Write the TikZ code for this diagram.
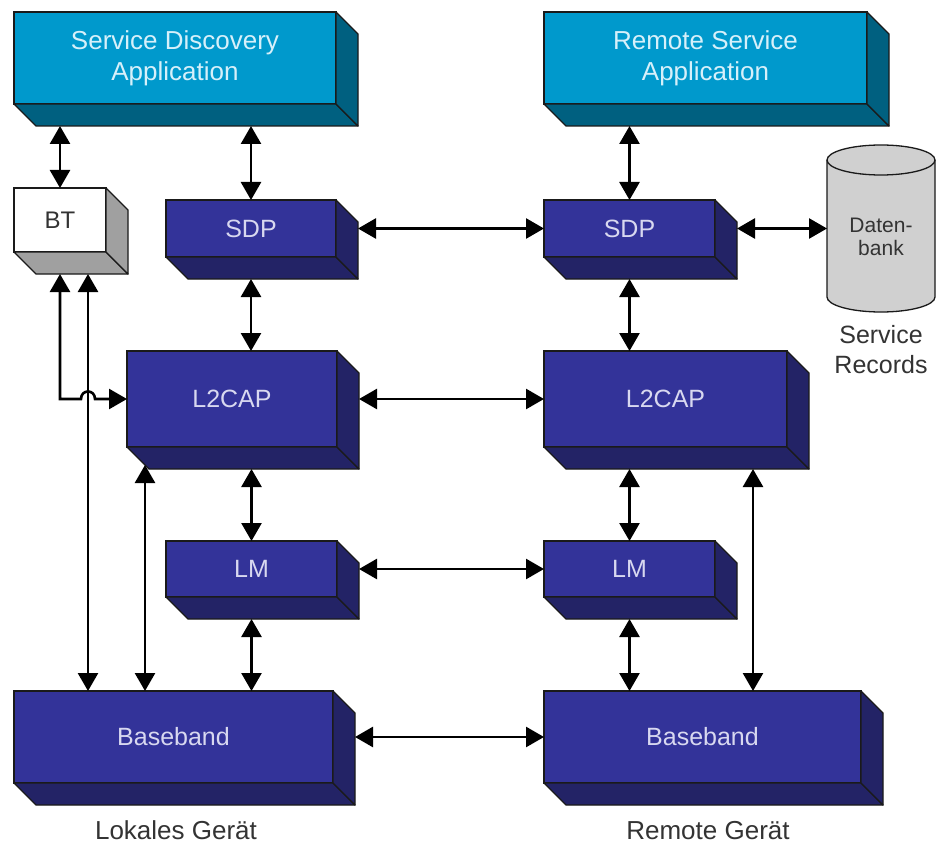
\documentclass[tikz,border=0pt]{standalone}
\usepackage{fontspec}
\setmainfont{Liberation Sans}
\usetikzlibrary{arrows.meta,calc}

\definecolor{appface}{HTML}{0099CC}
\definecolor{appside}{HTML}{006080}
\definecolor{apptext}{HTML}{D6F0FA}
\definecolor{layface}{HTML}{333399}
\definecolor{layside}{HTML}{232366}
\definecolor{laytext}{HTML}{D8D8F0}
\definecolor{btside}{HTML}{A0A0A0}
\definecolor{dbfill}{HTML}{D0D0D0}
\definecolor{labeltext}{HTML}{333333}
\definecolor{edge}{HTML}{1A1A1A}

\tikzset{
  face/.style={draw=edge, line width=1.3pt, inner sep=0pt, outer sep=0pt, align=center},
  appbox/.style={face, fill=appface, text=apptext, font=\fontsize{26}{31}\selectfont},
  appsidefill/.style={draw=edge, line width=1.3pt, fill=appside, line join=round},
  laybox/.style={face, fill=layface, text=laytext, font=\fontsize{25}{30}\selectfont},
  laysidefill/.style={draw=edge, line width=1.3pt, fill=layside, line join=round},
  btbox/.style={face, fill=white, text=labeltext, font=\fontsize{24}{28}\selectfont},
  btsidefill/.style={draw=edge, line width=1.3pt, fill=btside, line join=round},
  conn/.style={line width=2.6pt, draw=black, {Triangle[length=18pt,width=20pt]}-{Triangle[length=18pt,width=20pt]}},
  caption/.style={text=labeltext, font=\fontsize{26}{30}\selectfont, align=center},
  dbcaption/.style={text=labeltext, font=\fontsize{25}{30}\selectfont, align=center},
  dbtext/.style={text=labeltext, font=\fontsize{21}{23}\selectfont, align=center},
}

% A block with a front face and a bottom/right depth of 22 units.
% #1 name, #2..#5 front face x1,y1,x2,y2, #6 face style, #7 depth style, #8 text
\newcommand\slab[8]{%
  \node[#6, minimum width={(#4-#2)*1pt}, minimum height={(#5-#3)*1pt}]
    (#1) at ({(#2+#4)/2},{(#3+#5)/2}) {#8};
  \draw[#7] (#1.south west) -- (#1.south east) -- ++(22,22)
            -- ([shift={(22,22)}]#1.south west) -- cycle;
  \draw[#7] (#1.north east) -- ++(22,22)
            -- ([shift={(22,22)}]#1.south east) -- (#1.south east) -- cycle;
  \coordinate (#1-bs) at ([shift={(22,22)}]#1.south);
  \coordinate (#1-be) at ([shift={(22,22)}]#1.east);
}

\begin{document}
\begin{tikzpicture}[x=1pt,y=-1pt]
\useasboundingbox[fill=white] (0,0) rectangle (937,845);

% application layer
\slab{sda}{14}{12}{336}{104}{appbox}{appsidefill}{Service Discovery\\Application}
\slab{rsa}{544}{12}{867}{104}{appbox}{appsidefill}{Remote Service\\Application}

% local device stack
\slab{bt}{14}{188}{106}{252}{btbox}{btsidefill}{BT}
\slab{sdpL}{166}{200}{336}{257}{laybox}{laysidefill}{SDP}
\slab{l2L}{127}{351}{337}{447}{laybox}{laysidefill}{L2CAP}
\slab{lmL}{166}{541}{337}{597}{laybox}{laysidefill}{LM}
\slab{bbL}{14}{691}{333}{783}{laybox}{laysidefill}{Baseband}

% remote device stack
\slab{sdpR}{544}{200}{715}{257}{laybox}{laysidefill}{SDP}
\slab{l2R}{544}{351}{787}{447}{laybox}{laysidefill}{L2CAP}
\slab{lmR}{544}{541}{715}{597}{laybox}{laysidefill}{LM}
\slab{bbR}{544}{691}{861}{783}{laybox}{laysidefill}{Baseband}

% service record database
\node[minimum width=108pt, minimum height=137pt, inner sep=0pt, outer sep=0pt] (db) at (881,228.5) {};
\draw[draw=edge, line width=1.3pt, fill=dbfill]
  (db.north west) -- (db.south west)
  arc[start angle=180, end angle=0, x radius=54, y radius=15]
  -- (db.north east)
  arc[start angle=0, end angle=-180, x radius=54, y radius=15] -- cycle;
\draw[draw=edge, line width=1.3pt]
  (db.north west) arc[start angle=180, end angle=0, x radius=54, y radius=15];
\node[dbtext] (dbtxt) at ($(db.center)+(0,8)$) {Daten-\\bank};
\node[dbcaption] (records) at (881,350) {Service\\Records};

% captions
\node[caption] (local) at (176,830) {Lokales Gerät};
\node[caption] (remote) at (708,831) {Remote Gerät};

% vertical links, local side
\draw[conn] (bt.north |- sda-bs) -- (bt.north);
\draw[conn] (sdpL.north |- sda-bs) -- (sdpL.north);
\draw[conn] (sdpL.north |- sdpL-bs) -- (sdpL.north |- l2L.north);
\draw[conn] (lmL.north |- l2L-bs) -- (lmL.north);
\draw[conn] (lmL.north |- lmL-bs) -- (lmL.north |- bbL.north);
\coordinate (l2Lfoot) at ($(l2L.south west)+(18,18)$);
\draw[conn] (l2Lfoot) -- (l2Lfoot |- bbL.north);

% BT management links
\coordinate (hopx) at ($(bt.south)+(28,0)$);
\draw[conn] (bt.south |- bt-bs) -- (bt.south |- l2L.west)
  -- ($(hopx |- l2L.west)+(-7,0)$)
  .. controls +(0,-10) and +(0,-10) .. ($(hopx |- l2L.west)+(7,0)$)
  -- (l2L.west);
\draw[conn] (hopx |- bt-bs) -- (hopx |- bbL.north);

% vertical links, remote side
\draw[conn] (sdpR.north |- rsa-bs) -- (sdpR.north);
\draw[conn] (sdpR.north |- sdpR-bs) -- (sdpR.north |- l2R.north);
\draw[conn] (lmR.north |- l2R-bs) -- (lmR.north);
\draw[conn] (lmR.north |- lmR-bs) -- (lmR.north |- bbR.north);
\coordinate (l2Rfoot) at ($(l2R.south east)+(-34,22)$);
\draw[conn] (l2Rfoot) -- (l2Rfoot |- bbR.north);

% peer links
\draw[conn] (sdpL-be |- sdpL.east) -- (sdpR.west);
\draw[conn] (l2L-be |- l2L.east) -- (l2R.west);
\draw[conn] (lmL-be |- lmL.east) -- (lmR.west);
\draw[conn] (bbL-be |- bbL.east) -- (bbR.west);
\draw[conn] (sdpR-be |- sdpR.east) -- (db.west);
\end{tikzpicture}
\end{document}
